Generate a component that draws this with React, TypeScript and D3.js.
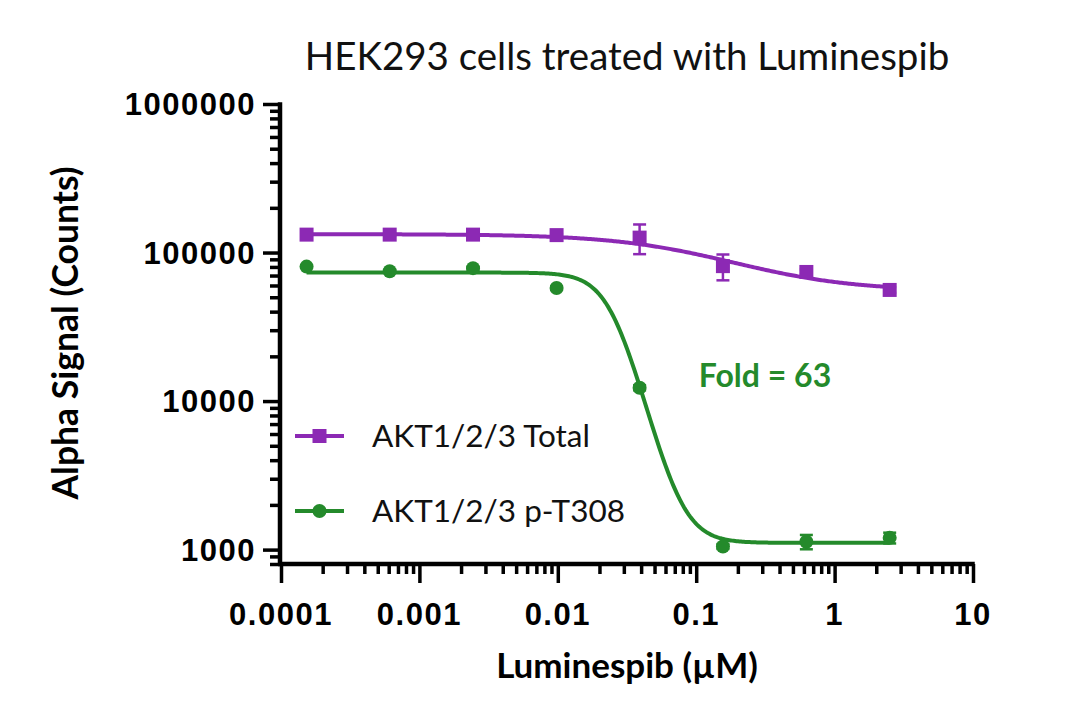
import React, { useEffect, useRef } from 'react';
import * as d3 from 'd3';

// Luminespib concentrations (µM), 4-fold dilution series
const concentrations = [0.000153, 0.00061, 0.00244, 0.0098, 0.039, 0.156, 0.625, 2.5];

// AKT1/2/3 Total: mean and SD
const totalMean = [132000, 132000, 132000, 131000, 126000, 81000, 74000, 56000];
const totalSD = [2000, 2000, 2000, 2500, 28500, 16000, 3000, 2500];

// AKT1/2/3 p-T308: mean and SD
const phosphoMean = [80400, 74800, 78500, 57700, 12300, 1050, 1130, 1200];
const phosphoSD = [1500, 1500, 1500, 1500, 500, 40, 125, 100];

// four-parameter logistic fit: [top, bottom, IC50 (µM), hill]
const totalFit = [133000, 55000, 0.12, 1.0];
const phosphoFit = [73300, 1110, 0.0252, 3.8];

const seriesNames = ['AKT1/2/3 Total', 'AKT1/2/3 p-T308'];
const xTicks = [0.0001, 0.001, 0.01, 0.1, 1, 10];
const xTickLabels = ['0.0001', '0.001', '0.01', '0.1', '1', '10'];
const yTicks = [1000, 10000, 100000, 1000000];
const yTickLabels = ['1000', '10000', '100000', '1000000'];

const PURPLE = '#8C29B4';
const GREEN = '#248A2B';

const logistic = (p: number[]) => (x: number) =>
  p[1] + (p[0] - p[1]) / (1 + Math.pow(x / p[2], p[3]));

export default function App() {
  const svgRef = useRef<SVGSVGElement>(null);

  useEffect(() => {
    if (!svgRef.current) return;
    const svg = d3.select(svgRef.current);
    svg.selectAll('*').remove();

    const x = d3.scaleLog().domain([1e-4, 10]).range([281, 973]);
    const y = d3.scaleLog().domain([800, 1e6]).range([564, 104]);

    svg.append('rect').attr('width', 1080).attr('height', 724).attr('fill', '#fff');

    // Title
    svg
      .append('text')
      .attr('x', 627)
      .attr('y', 70)
      .attr('text-anchor', 'middle')
      .attr('font-family', 'Lato, sans-serif')
      .attr('font-size', 38.5)
      .attr('fill', '#111')
      .text('HEK293 cells treated with Luminespib');

    // minor tick values
    const xMinor: number[] = [];
    for (let e = -4; e < 1; e++) for (let k = 2; k <= 9; k++) xMinor.push(k * Math.pow(10, e));
    const yMinor: number[] = [800, 900];
    for (let e = 3; e < 6; e++) for (let k = 2; k <= 9; k++) yMinor.push(k * Math.pow(10, e));

    const axes = svg.append('g');

    // y axis
    const yMinorAxis = d3.axisLeft(y).tickValues(yMinor).tickSize(10).tickFormat(() => '');
    const yMajorAxis = d3.axisLeft(y).tickValues(yTicks).tickSize(17).tickFormat(() => '');
    axes.append('g').attr('transform', 'translate(280,0)').call(yMinorAxis);
    axes.append('g').attr('transform', 'translate(280,0)').call(yMajorAxis);

    // x axis
    const xMinorAxis = d3.axisBottom(x).tickValues(xMinor).tickSize(10).tickFormat(() => '');
    const xMajorAxis = d3.axisBottom(x).tickValues(xTicks).tickSize(19).tickFormat(() => '');
    axes.append('g').attr('transform', 'translate(0,564)').call(xMinorAxis);
    axes.append('g').attr('transform', 'translate(0,564)').call(xMajorAxis);

    axes.selectAll('.domain').remove();
    axes.selectAll('.tick line').attr('stroke', '#000').attr('stroke-width', 3.5);

    // axis lines
    axes
      .append('line')
      .attr('x1', 280)
      .attr('x2', 280)
      .attr('y1', y(1e6) - 1.75)
      .attr('y2', 566)
      .attr('stroke', '#000')
      .attr('stroke-width', 4.5);
    axes
      .append('line')
      .attr('x1', 278)
      .attr('x2', x(10) + 1.75)
      .attr('y1', 564)
      .attr('y2', 564)
      .attr('stroke', '#000')
      .attr('stroke-width', 4.5);

    // tick labels
    const tickFont = '"Liberation Sans", Arial, sans-serif';
    svg
      .append('g')
      .selectAll('text')
      .data(yTicks)
      .enter()
      .append('text')
      .attr('x', 256)
      .attr('y', (d) => y(d) + 11)
      .attr('text-anchor', 'end')
      .attr('font-family', tickFont)
      .attr('font-weight', 'bold')
      .attr('font-size', 31)
      .attr('letter-spacing', 1.5)
      .text((_d, i) => yTickLabels[i]);
    svg
      .append('g')
      .selectAll('text')
      .data(xTicks)
      .enter()
      .append('text')
      .attr('x', (d) => x(d))
      .attr('y', 625)
      .attr('text-anchor', 'middle')
      .attr('font-family', tickFont)
      .attr('font-weight', 'bold')
      .attr('font-size', 31)
      .attr('letter-spacing', 1.5)
      .text((_d, i) => xTickLabels[i]);

    // axis titles
    svg
      .append('text')
      .attr('x', 627)
      .attr('y', 678)
      .attr('text-anchor', 'middle')
      .attr('font-family', 'Lato, sans-serif')
      .attr('font-weight', 'bold')
      .attr('font-size', 35)
      .text('Luminespib (µM)');
    svg
      .append('text')
      .attr('transform', 'translate(78,333) rotate(-90)')
      .attr('text-anchor', 'middle')
      .attr('font-family', 'Lato, sans-serif')
      .attr('font-weight', 'bold')
      .attr('font-size', 35.5)
      .text('Alpha Signal (Counts)');

    // fitted curves
    const lineGen = d3.line<number>().x((d) => x(d));
    const lo = Math.log10(concentrations[0]);
    const hi = Math.log10(concentrations[concentrations.length - 1]);
    const xs = d3.range(0, 401).map((i) => Math.pow(10, lo + ((hi - lo) * i) / 400));
    const series = [
      { mean: totalMean, sd: totalSD, fit: totalFit, color: PURPLE, shape: 'square' },
      { mean: phosphoMean, sd: phosphoSD, fit: phosphoFit, color: GREEN, shape: 'circle' },
    ];

    series.forEach((s) => {
      const f = logistic(s.fit);
      svg
        .append('path')
        .attr('d', lineGen.y((d) => y(f(d)))(xs))
        .attr('fill', 'none')
        .attr('stroke', s.color)
        .attr('stroke-width', 4);

      const g = svg.append('g');
      // error bars
      concentrations.forEach((c, i) => {
        const top = y(s.mean[i] + s.sd[i]);
        const bot = y(s.mean[i] - s.sd[i]);
        const cx = x(c);
        g.append('line')
          .attr('x1', cx)
          .attr('x2', cx)
          .attr('y1', top)
          .attr('y2', bot)
          .attr('stroke', s.color)
          .attr('stroke-width', 2.5);
        [top, bot].forEach((yy) =>
          g
            .append('line')
            .attr('x1', cx - 6.5)
            .attr('x2', cx + 6.5)
            .attr('y1', yy)
            .attr('y2', yy)
            .attr('stroke', s.color)
            .attr('stroke-width', 2.5)
        );
      });
      // markers
      concentrations.forEach((c, i) => {
        if (s.shape === 'square') {
          g.append('rect')
            .attr('x', x(c) - 7)
            .attr('y', y(s.mean[i]) - 7)
            .attr('width', 14)
            .attr('height', 14)
            .attr('fill', s.color);
        } else {
          g.append('circle')
            .attr('cx', x(c))
            .attr('cy', y(s.mean[i]))
            .attr('r', 7)
            .attr('fill', s.color);
        }
      });
    });

    // annotation
    svg
      .append('text')
      .attr('x', 765)
      .attr('y', 387)
      .attr('text-anchor', 'middle')
      .attr('font-family', 'Lato, sans-serif')
      .attr('font-weight', 'bold')
      .attr('font-size', 32)
      .attr('fill', GREEN)
      .text('Fold = 63');

    // legend
    const legend = svg.append('g');
    const legendY = [436, 511];
    series.forEach((s, i) => {
      const ly = legendY[i];
      legend
        .append('line')
        .attr('x1', 295)
        .attr('x2', 344)
        .attr('y1', ly)
        .attr('y2', ly)
        .attr('stroke', s.color)
        .attr('stroke-width', 4);
      if (s.shape === 'square') {
        legend
          .append('rect')
          .attr('x', 319.5 - 7)
          .attr('y', ly - 7)
          .attr('width', 14)
          .attr('height', 14)
          .attr('fill', s.color);
      } else {
        legend.append('circle').attr('cx', 319.5).attr('cy', ly).attr('r', 7).attr('fill', s.color);
      }
      legend
        .append('text')
        .attr('x', 372)
        .attr('y', ly + 11)
        .attr('font-family', 'Lato, sans-serif')
        .attr('font-size', 31.5)
        .attr('fill', '#111')
        .text(seriesNames[i]);
    });
  }, []);

  return (
    <div style={{ position: 'absolute', left: 0, top: 0 }}>
      <svg ref={svgRef} width={1080} height={724} style={{ display: 'block' }}></svg>
    </div>
  );
}
